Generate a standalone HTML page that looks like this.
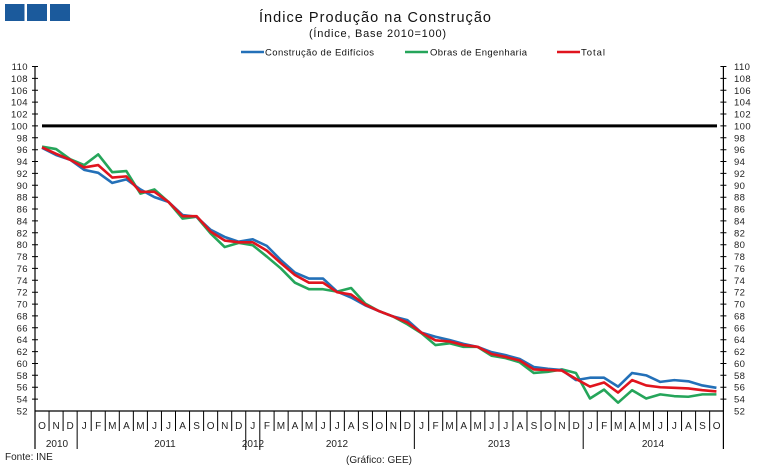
<!DOCTYPE html>
<html><head><meta charset="utf-8"><style>
html,body{margin:0;padding:0;background:#fff;}
svg{display:block;font-family:"Liberation Sans",Arial,sans-serif;}
</style></head><body>
<svg width="761" height="468" viewBox="0 0 761 468" xmlns="http://www.w3.org/2000/svg">
<rect x="0" y="0" width="761" height="468" fill="#fff"/>
<!-- logo squares -->
<rect x="5" y="4" width="19.5" height="17" fill="#1b5a9c"/>
<rect x="27" y="4" width="20" height="17" fill="#1b5a9c"/>
<rect x="50" y="4" width="20" height="17" fill="#1b5a9c"/>
<!-- titles -->
<text x="259" y="22" font-size="14.5" fill="#111" textLength="232" lengthAdjust="spacing">Índice Produção na Construção</text>
<text x="309" y="37" font-size="11" fill="#111" textLength="137" lengthAdjust="spacing">(Índice, Base 2010=100)</text>
<!-- legend -->
<line x1="241" y1="52" x2="264" y2="52" stroke="#2370b8" stroke-width="2.5"/>
<text x="265" y="55.5" font-size="9.5" fill="#111" textLength="109" lengthAdjust="spacing">Construção de Edifícios</text>
<line x1="405" y1="52" x2="428" y2="52" stroke="#25a55a" stroke-width="2.5"/>
<text x="430" y="55.5" font-size="9.5" fill="#111" textLength="97" lengthAdjust="spacing">Obras de Engenharia</text>
<line x1="557" y1="52" x2="580" y2="52" stroke="#e0141e" stroke-width="2.5"/>
<text x="581" y="55.5" font-size="9.5" fill="#111" textLength="24" lengthAdjust="spacing">Total</text>

<!-- axes -->
<g stroke="#000" stroke-width="1.2">
<line x1="35" y1="66" x2="35" y2="449"/>
<line x1="723.4" y1="66" x2="723.4" y2="449"/>
<line x1="35" y1="411" x2="723.4" y2="411"/>
</g>
<!-- y ticks -->
<g stroke="#000" stroke-width="1">
<path d="M32 66.5H38M32 78.4H38M32 90.3H38M32 102.1H38M32 114H38M32 125.9H38M32 137.8H38M32 149.7H38M32 161.5H38M32 173.4H38M32 185.3H38M32 197.2H38M32 209H38M32 220.9H38M32 232.8H38M32 244.7H38M32 256.6H38M32 268.4H38M32 280.3H38M32 292.2H38M32 304.1H38M32 315.9H38M32 327.8H38M32 339.7H38M32 351.6H38M32 363.5H38M32 375.3H38M32 387.2H38M32 399.1H38"/>
<path d="M720.4 66.5H726.4M720.4 78.4H726.4M720.4 90.3H726.4M720.4 102.1H726.4M720.4 114H726.4M720.4 125.9H726.4M720.4 137.8H726.4M720.4 149.7H726.4M720.4 161.5H726.4M720.4 173.4H726.4M720.4 185.3H726.4M720.4 197.2H726.4M720.4 209H726.4M720.4 220.9H726.4M720.4 232.8H726.4M720.4 244.7H726.4M720.4 256.6H726.4M720.4 268.4H726.4M720.4 280.3H726.4M720.4 292.2H726.4M720.4 304.1H726.4M720.4 315.9H726.4M720.4 327.8H726.4M720.4 339.7H726.4M720.4 351.6H726.4M720.4 363.5H726.4M720.4 375.3H726.4M720.4 387.2H726.4M720.4 399.1H726.4"/>
</g>
<!-- y labels -->
<g font-size="9.5" fill="#222" text-anchor="end" letter-spacing="0.4">
<text x="28" y="70">110</text><text x="28" y="81.9">108</text><text x="28" y="93.8">106</text><text x="28" y="105.6">104</text><text x="28" y="117.5">102</text><text x="28" y="129.4">100</text><text x="28" y="141.3">98</text><text x="28" y="153.2">96</text><text x="28" y="165">94</text><text x="28" y="176.9">92</text><text x="28" y="188.8">90</text><text x="28" y="200.7">88</text><text x="28" y="212.5">86</text><text x="28" y="224.4">84</text><text x="28" y="236.3">82</text><text x="28" y="248.2">80</text><text x="28" y="260.1">78</text><text x="28" y="271.9">76</text><text x="28" y="283.8">74</text><text x="28" y="295.7">72</text><text x="28" y="307.6">70</text><text x="28" y="319.4">68</text><text x="28" y="331.3">66</text><text x="28" y="343.2">64</text><text x="28" y="355.1">62</text><text x="28" y="367">60</text><text x="28" y="378.8">58</text><text x="28" y="390.7">56</text><text x="28" y="402.6">54</text><text x="28" y="414.5">52</text>
</g>
<g font-size="9.5" fill="#222" letter-spacing="0.4">
<text x="734" y="70">110</text><text x="734" y="81.9">108</text><text x="734" y="93.8">106</text><text x="734" y="105.6">104</text><text x="734" y="117.5">102</text><text x="734" y="129.4">100</text><text x="734" y="141.3">98</text><text x="734" y="153.2">96</text><text x="734" y="165">94</text><text x="734" y="176.9">92</text><text x="734" y="188.8">90</text><text x="734" y="200.7">88</text><text x="734" y="212.5">86</text><text x="734" y="224.4">84</text><text x="734" y="236.3">82</text><text x="734" y="248.2">80</text><text x="734" y="260.1">78</text><text x="734" y="271.9">76</text><text x="734" y="283.8">74</text><text x="734" y="295.7">72</text><text x="734" y="307.6">70</text><text x="734" y="319.4">68</text><text x="734" y="331.3">66</text><text x="734" y="343.2">64</text><text x="734" y="355.1">62</text><text x="734" y="367">60</text><text x="734" y="378.8">58</text><text x="734" y="390.7">56</text><text x="734" y="402.6">54</text><text x="734" y="414.5">52</text>
</g>

<!-- category separators (short) -->
<g stroke="#000" stroke-width="1">
<path d="M49.05 411V431M63.1 411V431M91.2 411V431M105.25 411V431M119.3 411V431M133.35 411V431M147.4 411V431M161.45 411V431M175.5 411V431M189.55 411V431M203.6 411V431M217.65 411V431M231.7 411V431M274.1 411V431M288.15 411V431M302.2 411V431M316.25 411V431M330.3 411V431M344.35 411V431M358.4 411V431M372.45 411V431M386.5 411V431M400.55 411V431M428.65 411V431M442.7 411V431M456.75 411V431M470.8 411V431M484.85 411V431M498.9 411V431M512.95 411V431M527 411V431M541.05 411V431M555.1 411V431M569.15 411V431M597.25 411V431M611.3 411V431M625.35 411V431M639.4 411V431M653.45 411V431M667.5 411V431M681.55 411V431M695.6 411V431M709.65 411V431"/>
<!-- year separators (long) -->
<path d="M77.15 411V449M245.75 411V450M259.8 411V450M414.35 411V449M583.2 411V449"/>
</g>
<!-- month labels -->
<g font-size="10" fill="#222" text-anchor="middle">
<text x="42" y="429">O</text><text x="56.1" y="429">N</text><text x="70.1" y="429">D</text>
<text x="84.2" y="429">J</text><text x="98.2" y="429">F</text><text x="112.3" y="429">M</text><text x="126.4" y="429">A</text><text x="140.4" y="429">M</text><text x="154.5" y="429">J</text><text x="168.5" y="429">J</text><text x="182.6" y="429">A</text><text x="196.6" y="429">S</text><text x="210.7" y="429">O</text><text x="224.7" y="429">N</text><text x="238.8" y="429">D</text>
<text x="252.8" y="429">J</text><text x="266.9" y="429">F</text><text x="280.9" y="429">M</text><text x="295" y="429">A</text><text x="309" y="429">M</text><text x="323.1" y="429">J</text><text x="337.2" y="429">J</text><text x="351.2" y="429">A</text><text x="365.3" y="429">S</text><text x="379.3" y="429">O</text><text x="393.4" y="429">N</text><text x="407.4" y="429">D</text>
<text x="421.5" y="429">J</text><text x="435.6" y="429">F</text><text x="449.6" y="429">M</text><text x="463.7" y="429">A</text><text x="477.7" y="429">M</text><text x="491.8" y="429">J</text><text x="505.8" y="429">J</text><text x="519.9" y="429">A</text><text x="533.9" y="429">S</text><text x="548" y="429">O</text><text x="562" y="429">N</text><text x="576.1" y="429">D</text>
<text x="590.1" y="429">J</text><text x="604.2" y="429">F</text><text x="618.2" y="429">M</text><text x="632.3" y="429">A</text><text x="646.3" y="429">M</text><text x="660.4" y="429">J</text><text x="674.4" y="429">J</text><text x="688.5" y="429">A</text><text x="702.5" y="429">S</text><text x="716.6" y="429">O</text>
</g>
<!-- year labels -->
<g font-size="10" fill="#222" text-anchor="middle">
<text x="57" y="447">2010</text>
<text x="165" y="447">2011</text>
<text x="253" y="447">2012</text>
<text x="337" y="447">2012</text>
<text x="499" y="447">2013</text>
<text x="653" y="447">2014</text>
</g>
<text x="5" y="460" font-size="10" fill="#222">Fonte: INE</text>
<text x="346" y="463" font-size="10" fill="#222" textLength="66" lengthAdjust="spacing">(Gráfico: GEE)</text>

<!-- 100 line -->
<line x1="42" y1="125.9" x2="717" y2="125.9" stroke="#000" stroke-width="3"/>

<!-- series -->
<g transform="matrix(14.05 0 0 -5.9397 42.025 719.86)" fill="none" stroke-linejoin="round">
<polyline vector-effect="non-scaling-stroke" stroke="#25a55a" stroke-width="2.6" points="0,96.5 1,96.1 2,94.4 3,93.4 4,95.2 5,92.2 6,92.4 7,88.6 8,89.3 9,87.2 10,84.4 11,84.7 12,81.9 13,79.6 14,80.3 15,79.9 16,78 17,76 18,73.6 19,72.5 20,72.5 21,72.1 22,72.7 23,70.1 24,68.8 25,67.9 26,66.6 27,65.1 28,63.1 29,63.4 30,62.8 31,62.8 32,61.3 33,60.9 34,60.2 35,58.4 36,58.6 37,59 38,58.4 39,54.1 40,55.6 41,53.4 42,55.5 43,54.1 44,54.8 45,54.5 46,54.4 47,54.8 48,54.8"/>
<polyline vector-effect="non-scaling-stroke" stroke="#2370b8" stroke-width="2.6" points="0,96.3 1,95.1 2,94.3 3,92.6 4,92.1 5,90.4 6,91 7,89.3 8,88 9,87.2 10,85 11,84.7 12,82.5 13,81.3 14,80.5 15,80.9 16,79.8 17,77.4 18,75.3 19,74.3 20,74.3 21,72.1 22,71.1 23,69.8 24,68.8 25,67.9 26,67.3 27,65.2 28,64.5 29,63.95 30,63.3 31,62.8 32,61.9 33,61.4 34,60.75 35,59.4 36,59.1 37,58.9 38,57.2 39,57.6 40,57.6 41,56.1 42,58.4 43,58 44,56.9 45,57.2 46,57 47,56.3 48,55.9"/>
<polyline vector-effect="non-scaling-stroke" stroke="#e0141e" stroke-width="2.6" points="0,96.4 1,95.3 2,94.3 3,93 4,93.4 5,91.3 6,91.5 7,88.9 8,88.9 9,87.2 10,84.8 11,84.8 12,82.2 13,80.7 14,80.4 15,80.4 16,79 17,76.9 18,74.9 19,73.6 20,73.6 21,72 22,71.6 23,69.9 24,68.8 25,67.9 26,66.9 27,65.2 28,63.9 29,63.7 30,63.1 31,62.8 32,61.6 33,61.1 34,60.5 35,59 36,58.9 37,58.8 38,57.4 39,56.1 40,56.8 41,55.1 42,57.2 43,56.3 44,56 45,55.9 46,55.8 47,55.5 48,55.3"/>
</g>
</svg>
</body></html>
